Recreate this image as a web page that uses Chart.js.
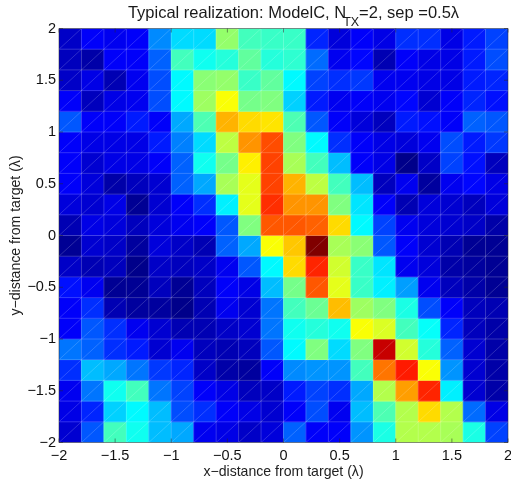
<!DOCTYPE html>
<html>
<head>
<meta charset="utf-8">
<title>Typical realization</title>
<script src="https://cdn.jsdelivr.net/npm/chart.js@4"></script>
<style>
  html, body { margin: 0; padding: 0; background: #fff; }
  canvas { display: block; }
</style>
</head>
<body>
<canvas id="chart" width="511" height="483"></canvas>
<script>
// column centres, left to right
const xCenters = [-1.9, -1.7, -1.5, -1.3, -1.1, -0.9, -0.7, -0.5, -0.3, -0.1, 0.1, 0.3, 0.5, 0.7, 0.9, 1.1, 1.3, 1.5, 1.7, 1.9];
// row centres, top to bottom
const yCenters = [1.9, 1.7, 1.5, 1.3, 1.1, 0.9, 0.7, 0.5, 0.3, 0.1, -0.1, -0.3, -0.5, -0.7, -0.9, -1.1, -1.3, -1.5, -1.7, -1.9];
const cellSize = 0.2;

// intensity, 0-100 on the jet scale, one line per row
const intensity = [
  [ 7,12,11,12,26,34,34,52,44,43,43,16, 9,12,10,17,17,10,15,19],
  [ 6, 4,12,12,22,44,39,41,47,41,42,23,11,13, 5,12,10,10,15,20],
  [ 7,10, 5,11,20,37,51,52,43,47,37,19,17,18,11,11,10,10,15,16],
  [12, 6,10,11,20,37,53,62,49,50,33,15,11,12,11,13, 8,12,16,14],
  [21,12,12,15,12,29,45,70,66,65,45,21,12, 9, 6,15,14,12,22,21],
  [12,10,10,10,15,25,34,56,73,80,50,37,17,12,10, 9,11,20,15,18],
  [12, 8,10,10,12,22,39,49,64,81,54,44,31,12,10, 1, 7,19,14, 6],
  [12, 9, 4, 6, 8,22,29,54,60,81,70,56,44,31, 6,11, 3,11,13,10],
  [ 9, 8,10, 2, 8,12,17,36,60,83,73,73,50,35,12, 5, 9, 8, 6, 9],
  [ 5,10, 9, 6, 9,11,12,21,50,79,79,78,66,37,19,11, 9, 8, 7, 4],
  [ 2, 8, 7, 3, 9, 7, 5,22,29,62,68,100,54,51,21,12, 8, 5, 2, 2],
  [ 7, 5, 6, 1, 7, 6, 7,11,21,37,66,84,58,43,35,11, 9, 4, 3, 2],
  [14,11, 2, 2, 6, 2, 6,12,10,31,49,79,60,43,36,28,11, 6, 4, 2],
  [12,17, 5, 3, 3, 1, 5,11, 8,24,44,48,69,53,50,40,20,12, 6, 5],
  [12,21,17,11, 8, 5, 5, 7, 8,24,39,41,39,62,59,44,38,16, 6, 4],
  [24,22,17,15, 8,11, 6, 5, 6,21,37,50,34,50,93,58,41,22, 8, 4],
  [17,31,29,24,18,16, 7, 4, 3,12,26,27,27,44,76,85,62,27, 8, 4],
  [11,24,39,44,24,19,12,10, 6, 7,15,19,17,29,55,72,84,36, 8, 4],
  [10,16,33,37,31,20,17,12,10, 8,12,20,11,31,45,55,66,55,23,10],
  [ 8,21,44,39,31,29,11,10, 7, 9,22,12,12,27,40,55,55,54,40,19]
];

const titleStart = 'Typical realization: ModelC, N';
const titleSub = 'TX';
const titleEnd = '=2, sep =0.5\u03bb';
const xLabel = 'x\u2212distance from target (\u03bb)';
const yLabel = 'y\u2212distance from target (\u03bb)';

const FONT = '"Liberation Sans", Arial, sans-serif';

// matlab jet colormap
function jet(v) {
  const t = v / 100;
  const ch = c => Math.round(255 * Math.max(0, Math.min(1, 1.5 - Math.abs(4 * t - c))));
  return `rgb(${ch(3)},${ch(2)},${ch(1)})`;
}

const datasets = yCenters.map((yc, r) => ({
  label: 'y=' + yc,
  data: xCenters.map(xc => ({ x: xc, y: [yc - cellSize / 2, yc + cellSize / 2] })),
  backgroundColor: intensity[r].map(jet),
  borderWidth: 0,
  grouped: false,
  categoryPercentage: 1,
  barPercentage: 1
}));

const tickText = v => String(v).replace('-', '\u2212');

// patch edges + the little diagonals in each cell, then box, ticks and the title
const meshPlugin = {
  id: 'mesh',
  afterDatasetsDraw(chart) {
    const { ctx, chartArea: a, scales: { x, y } } = chart;
    ctx.save();
    ctx.lineWidth = 1;
    ctx.strokeStyle = 'rgba(255,255,255,0.2)';
    ctx.beginPath();
    xCenters.slice(1).forEach(xc => {
      const px = x.getPixelForValue(xc - cellSize / 2);
      ctx.moveTo(px, a.top);
      ctx.lineTo(px, a.bottom);
    });
    yCenters.slice(1).forEach(yc => {
      const py = y.getPixelForValue(yc + cellSize / 2);
      ctx.moveTo(a.left, py);
      ctx.lineTo(a.right, py);
    });
    ctx.stroke();

    ctx.lineWidth = 0.5;
    ctx.strokeStyle = 'rgba(255,255,255,0.35)';
    ctx.beginPath();
    xCenters.forEach(xc => {
      yCenters.forEach(yc => {
        ctx.moveTo(x.getPixelForValue(xc - cellSize / 2), y.getPixelForValue(yc - cellSize / 2));
        ctx.lineTo(x.getPixelForValue(xc + cellSize / 2), y.getPixelForValue(yc + cellSize / 2));
      });
    });
    ctx.stroke();

    // inward ticks
    ctx.lineWidth = 0.7;
    ctx.strokeStyle = 'rgba(40,40,40,0.75)';
    ctx.beginPath();
    x.ticks.forEach(t => {
      const px = x.getPixelForValue(t.value);
      ctx.moveTo(px, a.bottom);
      ctx.lineTo(px, a.bottom - 4);
      ctx.moveTo(px, a.top);
      ctx.lineTo(px, a.top + 4);
    });
    y.ticks.forEach(t => {
      const py = y.getPixelForValue(t.value);
      ctx.moveTo(a.left, py);
      ctx.lineTo(a.left + 4, py);
      ctx.moveTo(a.right, py);
      ctx.lineTo(a.right - 4, py);
    });
    ctx.rect(a.left, a.top, a.right - a.left, a.bottom - a.top);
    ctx.stroke();

    // title has a subscript so it goes on in pieces
    ctx.fillStyle = '#1a1a1a';
    ctx.textBaseline = 'alphabetic';
    ctx.textAlign = 'left';
    ctx.font = '16.5px ' + FONT;
    const w1 = ctx.measureText(titleStart).width;
    const w3 = ctx.measureText(titleEnd).width;
    ctx.font = '12.5px ' + FONT;
    const w2 = ctx.measureText(titleSub).width;
    const left = (a.left + a.right) / 2 + 10 - (w1 + w2 + w3 - 3) / 2;
    ctx.font = '16.5px ' + FONT;
    ctx.fillText(titleStart, left, 18);
    ctx.fillText(titleEnd, left + w1 - 3 + w2, 18);
    ctx.font = '12.5px ' + FONT;
    ctx.fillText(titleSub, left + w1 - 3, 26);
    ctx.restore();
  }
};

new Chart(document.getElementById('chart'), {
  type: 'bar',
  data: { datasets },
  options: {
    responsive: false,
    animation: false,
    layout: { padding: { top: 28.5, right: 3, left: 0, bottom: 0 } },
    plugins: { legend: { display: false }, tooltip: { enabled: false } },
    scales: {
      x: {
        type: 'linear',
        min: -2,
        max: 2,
        offset: false,
        grid: { display: false, drawTicks: false },
        border: { display: false },
        afterFit(s) { s.height = 40.5; s.paddingLeft = 0; s.paddingRight = 0; },
        ticks: {
          stepSize: 0.5,
          maxRotation: 0,
          autoSkip: false,
          padding: 5,
          color: '#111',
          font: { family: FONT, size: 14.5 },
          callback: tickText
        },
        title: {
          display: true,
          text: xLabel,
          color: '#222',
          padding: 2,
          font: { family: FONT, size: 14.1 }
        }
      },
      y: {
        type: 'linear',
        min: -2,
        max: 2,
        grid: { display: false, drawTicks: false },
        border: { display: false },
        afterFit(s) { s.width = 59; s.paddingTop = 0; s.paddingBottom = 0; },
        ticks: {
          stepSize: 0.5,
          autoSkip: false,
          padding: 3,
          color: '#111',
          font: { family: FONT, size: 14.5 },
          callback: tickText
        },
        title: {
          display: true,
          text: yLabel,
          color: '#222',
          padding: 8,
          font: { family: FONT, size: 14.1 }
        }
      }
    }
  },
  plugins: [meshPlugin]
});
</script>
</body>
</html>
